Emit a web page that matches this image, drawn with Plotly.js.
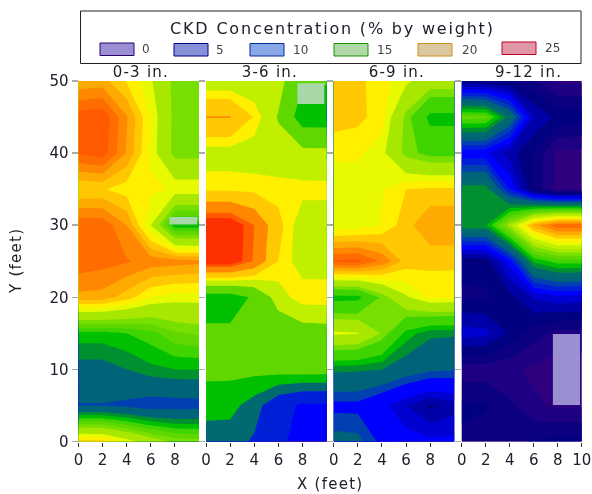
<!DOCTYPE html>
<html>
<head>
<meta charset="utf-8">
<script src="https://cdn.plot.ly/plotly-3.0.1.min.js"></script>
<style>
html,body{margin:0;padding:0;background:#fff;}
#chart{width:592px;height:494px;filter:blur(0.5px);}
</style>
</head>
<body>
<div id="chart"></div>
<script>
// Grid
var xFeet = [0,2,4,6,8,10];
var yFeet = [0,5,10,15,20,25,30,35,40,45,50];

// Colour level values, rows bottom to top (y = 0 ... 50)
var z0to3 = [
 [20.5,20.4,18.7,17,15.7,15.5],
 [8.9,8.9,8.6,8.1,8.2,8.3],
 [10.4,10.4,11,11.7,12,12],
 [12.6,12.6,13,13.6,14.8,15.2],
 [21.7,21.6,20.5,19,18.5,18.5],
 [23.7,23.4,23.1,22.6,22.5,22.3],
 [23.8,23.7,22,18,12.3,12.3],
 [20,20.1,19.5,19.2,18.9,18.9],
 [24.1,24.6,21.9,18.8,15.5,15.5],
 [24.6,24.8,22.1,19,15.5,15.5],
 [21.2,21.4,19.9,18.2,15.5,15.5]
];
var z3to6 = [
 [10.9,10.9,9.7,7.4,6.3,6.2],
 [12.8,12.7,11,8,6.6,6.5],
 [14.6,14.6,14.7,15,15.2,15.2],
 [14.5,14.5,14.6,15,15.8,16],
 [12.7,12.7,14.4,18.2,19.8,19.8],
 [26.2,26.2,23.8,20,18.2,18.2],
 [26.3,26.3,24,20.5,18.1,18.1],
 [19.7,19.7,19.6,19.5,19.4,19.4],
 [18.3,18.3,18.2,18,17.8,17.7],
 [22.1,22.1,19.9,16.8,12.5,12.5],
 [17.9,17.9,17.7,18,14.2,14.2]
];
var z6to9 = [
 [9.6,9.4,7.6,6.6,6.3,6.3],
 [7.6,7.6,6.4,5,3.8,4.5],
 [11.3,11.2,11,10,9.3,9.1],
 [18.3,18.1,15.9,12.6,11.3,11.2],
 [12.4,12.5,15.3,17.8,19.2,19.1],
 [24.2,24.3,22.8,20.6,20.3,20.3],
 [18.2,18.4,19.1,20.6,21.9,21.9],
 [18.2,18.3,18.9,20,20.2,20.2],
 [19.3,19.2,18.4,15.5,14.5,14.5],
 [20.5,20.3,19.5,15.6,12.5,12.5],
 [20.4,20.3,19.4,18.3,17,17]
];
var z9to12 = [
 [2.8,2.6,2.7,3.1,3.3,3.3],
 [3.2,3.1,2.2,1.2,0.8,0.9],
 [1.4,1.4,1.2,0.8,0.5,0.5],
 [5.5,5.3,3.8,2.5,1.6,1.6],
 [2.9,2.9,3.6,5.1,5.7,5.5],
 [3.2,3.3,6.5,12.2,13.5,13.5],
 [11.7,11.8,16.5,21.5,23.8,23.8],
 [11.6,11.6,7,2.8,0.7,0.7],
 [6.2,6.2,4.5,2.9,0.7,0.7],
 [14.5,14.4,10.5,5,3.7,3.5],
 [3.5,3.2,3,2.2,0.8,0.8]
];

// One colour per unit band
var bandColors = ['#2e0080','#1e0082','#0a0080','#000080','#0000a8','#0000d0','#0000ff','#0020d8','#0040b0','#006478','#006a70','#009030','#00c000','#40d400','#60d800','#78e000','#a8e800','#c0f000','#e8fa00','#fff000','#ffc800','#ffaa00','#ff8800','#ff6c00','#ff5a00','#ff3000'];
// Which bands are visibly separate in each panel
var keep0to3 = [0,1,2,3,4,5,6,7,8,9,11,12,13,14,15,16,18,19,20,21,22,23,24,25];
var keep3to6 = [0,6,7,10,12,14,17,19,20,22,24,25];
var keep6to9 = [0,1,2,3,4,5,6,8,9,11,12,13,15,16,18,19,20,21,22,23,24,25];
var keep9to12 = [0,1,2,3,4,5,6,7,8,9,10,11,12,13,14,15,16,17,18,19,20,21,22,23,24,25];

var panelTitles = ['0-3 in.','3-6 in.','6-9 in.','9-12 in.'];
var xTicks = [0,2,4,6,8];
var xTicksLast = [0,2,4,6,8,10];
var yTicks = [0,10,20,30,40,50];

// Pale rectangles, in feet
var paleX = [[7.55,9.86],[7.57,9.8],null,[7.6,9.86]];
var paleY = [[30.1,31.15],[46.8,49.7],null,[5.07,14.9]];
var paleColors = ['#a8d8a8','#a8d8a8',null,'#9a8fd0'];

// Legend
var legendLabels = ['0','5','10','15','20','25'];
var legendFill = ['#9a8fd0','#8890d8','#88a8e8','#b0d8a8','#dcc8a0','#e098a8'];
var legendEdge = ['#2a0070','#000080','#003090','#1a9000','#d09020','#c00020'];

// Layout geometry in pixels
var W = 592, H = 494;
var panelLeft = [78.5,206,333.7,461.7];
var panelRight = [199,326.7,454.3,581.7];
var plotTop = 81, plotBottom = 441.5;
var titleX = [141,270,397,528];
var swatchLeft = [100,174,250,334,418,502];
var swatchTop = [43,43.5,43.5,43.5,43.5,42];
var labelX = [146,220,300,384,469,552];

var font = 'DejaVu Sans, sans-serif';
var textColor = '#20202c';

function scaleFor(keep){
  var nc = bandColors.length, out = [[0, bandColors[0]]], cur = 0;
  for (var n = 0; n < nc; n++){
    if (keep.indexOf(n) >= 0) cur = n;
    out.push([(n+1)/nc, bandColors[cur]]);
  }
  return out;
}

var zs = [z0to3,z3to6,z6to9,z9to12];
var keeps = [keep0to3,keep3to6,keep6to9,keep9to12];
var traces = [], layout = {
  width:W, height:H, margin:{l:0,r:0,t:0,b:0}, showlegend:false,
  paper_bgcolor:'#fff', plot_bgcolor:'#fff',
  font:{family:font,color:textColor,size:15},
  shapes:[], annotations:[]
};

zs.forEach(function(z,i){
  var s = i===0 ? '' : String(i+1);
  traces.push({type:'contour',x:xFeet,y:yFeet,z:z,xaxis:'x'+s,yaxis:'y'+s,
    autocontour:false,contours:{start:0,end:25,size:1,coloring:'fill',showlines:false},
    line:{width:0,smoothing:0},colorscale:scaleFor(keeps[i]),showscale:false,hoverinfo:'skip'});
  if (paleX[i]){
    var xa = paleX[i], ya = paleY[i];
    traces.push({type:'scatter',mode:'lines',xaxis:'x'+s,yaxis:'y'+s,
      x:[xa[0],xa[1],xa[1],xa[0],xa[0]],y:[ya[0],ya[0],ya[1],ya[1],ya[0]],
      fill:'toself',fillcolor:paleColors[i],line:{width:0},hoverinfo:'skip'});
  }
  layout['xaxis'+s] = {domain:[panelLeft[i]/W,panelRight[i]/W],range:[0,10],anchor:'y'+s,
    tickmode:'array',tickvals:i===3?xTicksLast:xTicks,ticktext:(i===3?xTicksLast:xTicks).map(String),
    ticks:'outside',ticklen:4,tickcolor:'#333',tickwidth:1,showgrid:false,zeroline:false,showline:false,
    tickfont:{family:font,size:15,color:textColor}};
  layout['yaxis'+s] = {domain:[(H-plotBottom)/H,(H-plotTop)/H],range:[0,50],anchor:'x'+s,
    tickmode:'array',tickvals:yTicks,ticktext:yTicks.map(String),showticklabels:i===0,
    ticks:'outside',ticklen:6,tickcolor:'#aaaaaa',tickwidth:1.5,showgrid:false,zeroline:false,showline:false,
    tickfont:{family:font,size:15,color:textColor}};
  layout.annotations.push({xref:'paper',yref:'paper',x:titleX[i]/W,y:1-72/H,text:panelTitles[i],
    showarrow:false,xanchor:'center',yanchor:'middle',font:{family:font,size:15,color:textColor}});
});

// Axis titles
layout.annotations.push({xref:'paper',yref:'paper',x:330/W,y:1-484/H,text:'X (feet)',showarrow:false,
  xanchor:'center',yanchor:'middle',font:{family:font,size:15,color:textColor}});
layout.annotations.push({xref:'paper',yref:'paper',x:16/W,y:1-261/H,text:'Y (feet)',textangle:-90,showarrow:false,
  xanchor:'center',yanchor:'middle',font:{family:font,size:15,color:textColor}});

// Legend box
layout.shapes.push({type:'rect',xref:'paper',yref:'paper',x0:80.5/W,x1:581/W,y0:1-63.5/H,y1:1-11/H,
  line:{color:'#222',width:1},fillcolor:'#fff'});
layout.annotations.push({xref:'paper',yref:'paper',x:332/W,y:1-29/H,text:'CKD Concentration (% by weight)',
  showarrow:false,xanchor:'center',yanchor:'middle',font:{family:font,size:16,color:textColor}});
legendLabels.forEach(function(lab,i){
  layout.shapes.push({type:'rect',xref:'paper',yref:'paper',
    x0:swatchLeft[i]/W,x1:(swatchLeft[i]+34)/W,y0:1-(swatchTop[i]+12.5)/H,y1:1-swatchTop[i]/H,
    line:{color:legendEdge[i],width:1},fillcolor:legendFill[i]});
  layout.annotations.push({xref:'paper',yref:'paper',x:labelX[i]/W,y:1-(swatchTop[i]+6)/H,text:lab,
    showarrow:false,xanchor:'center',yanchor:'middle',font:{family:font,size:12,color:'#444'}});
});

Plotly.newPlot('chart',traces,layout,{displayModeBar:false,staticPlot:true}).then(function(){
  document.querySelectorAll('.annotation-text').forEach(function(t){
    var n = t.textContent.length;
    if (n > 2) t.style.letterSpacing = (n > 20 ? 1.8 : 1.25) + 'px';
  });
});
</script>
</body>
</html>
